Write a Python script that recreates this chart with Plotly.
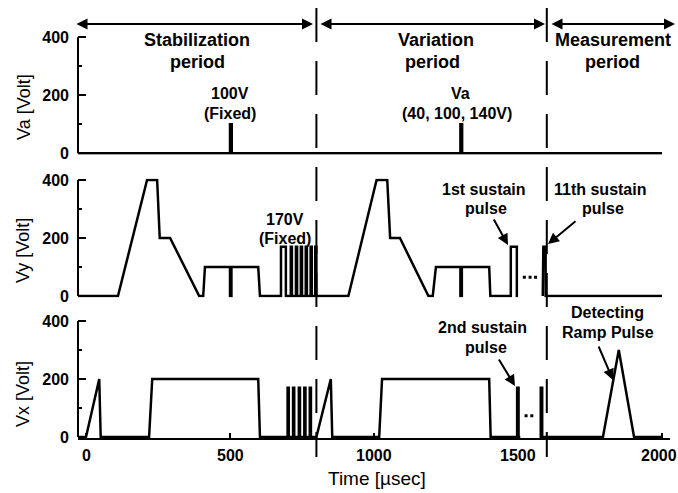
import plotly.graph_objects as go

W, H = 678, 493
ML, MR = 78, 8
FONT = "Liberation Sans, Arial, sans-serif"

# time axis (µs) and voltage axes
t_range = [-27.8, 2027.8]
x_ticks = [0, 500, 1000, 1500, 2000]
y_ticks = [0, 200, 400]
y_minor = [100, 300]
v_range = [-5, 405]
period_bounds = [800, 1600]

# Va : address electrode waveform
va_t = [-28, 500, 500, 506, 506, 1300, 1300, 1306, 1306, 2000]
va_v = [0, 0, 100, 100, 0, 0, 100, 100, 0, 0]

# Vy : scan electrode waveform (None = break before the last sustain pulse)
vy_t = [-28, 111, 212, 247, 256, 292, 393, 407, 413, 500, 500, 505, 505, 598, 604,
        677, 677, 694, 694,
        711, 711, 715, 715,
        729, 729, 733, 733,
        746, 746, 750, 750,
        763, 763, 767, 767,
        780, 780, 784, 784,
        796, 796, 800, 800,
        911, 1009, 1046, 1056, 1090, 1189, 1204, 1215, 1300, 1300, 1305, 1305, 1400, 1404,
        1475, 1475, 1496, 1496, 1500, None, 1586, 1588, 1596, 1596, 2000]
vy_v = [0, 0, 400, 400, 200, 200, 0, 0, 100, 100, 0, 0, 100, 100, 0,
        0, 170, 170, 0,
        0, 170, 170, 0,
        0, 170, 170, 0,
        0, 170, 170, 0,
        0, 170, 170, 0,
        0, 170, 170, 0,
        0, 170, 170, 0,
        0, 400, 400, 200, 200, 0, 0, 100, 100, 0, 0, 100, 100, 0,
        0, 170, 170, 0, 0, None, 0, 170, 170, 0, 0]

# Vx : sustain electrode waveform
vx_t = [-28, 0, 46, 51, 219, 230, 598, 604,
        700, 700, 704, 704,
        719, 719, 723, 723,
        739, 739, 743, 743,
        758, 758, 762, 762,
        777, 777, 781, 781,
        800, 850, 855, 1018, 1028, 1400, 1405,
        1497, 1497, 1502, 1502, 1508, None, 1575, 1579, 1579, 1584, 1584,
        1795, 1850, 1903, 2000]
vx_v = [0, 0, 200, 0, 0, 200, 200, 0,
        0, 170, 170, 0,
        0, 170, 170, 0,
        0, 170, 170, 0,
        0, 170, 170, 0,
        0, 170, 170, 0,
        0, 200, 0, 0, 200, 200, 0,
        0, 170, 170, 0, 0, None, 0, 0, 170, 170, 0,
        0, 300, 0, 0]

# ellipsis dots between the sustain pulses
vy_dots_t = [1522, 1542, 1561]
vy_dots_v = [65, 65, 65]
vx_dots_t = [1528, 1548]
vx_dots_v = [73, 73]

panel_names = ["Va [Volt]", "Vy [Volt]", "Vx [Volt]"]


def px2x(px):
    return (px - ML) / (W - ML - MR)


def py2y(py):
    return 1 - py / H


def domain(py_zero, py_top):
    k = (py_zero - py_top) / 400.0
    lo = py_zero - v_range[0] * k
    hi = py_top - (v_range[1] - 400) * k
    return [py2y(lo), py2y(hi)]


line_style = dict(color="black", width=2.5)
fig = go.Figure()
fig.add_trace(go.Scatter(x=va_t, y=va_v, mode="lines", line=line_style, xaxis="x", yaxis="y"))
fig.add_trace(go.Scatter(x=vy_t, y=vy_v, mode="lines", line=line_style, xaxis="x2", yaxis="y2",
                         connectgaps=False))
fig.add_trace(go.Scatter(x=vx_t, y=vx_v, mode="lines", line=line_style, xaxis="x3", yaxis="y3",
                         connectgaps=False))
fig.add_trace(go.Scatter(x=vy_dots_t, y=vy_dots_v, mode="markers", xaxis="x2", yaxis="y2",
                         marker=dict(symbol="square", size=3, color="black")))
fig.add_trace(go.Scatter(x=vx_dots_t, y=vx_dots_v, mode="markers", xaxis="x3", yaxis="y3",
                         marker=dict(symbol="square", size=3, color="black")))

tick_font = dict(family=FONT, size=16, color="black", weight="bold")


def y_axis(dom, anchor):
    return dict(domain=dom, anchor=anchor, range=v_range, tickvals=y_ticks,
                ticks="inside", ticklen=8, tickwidth=2, tickcolor="black",
                minor=dict(tickvals=y_minor, ticks="inside", ticklen=4, tickwidth=2,
                           tickcolor="black"),
                showgrid=False, zeroline=False, showline=False,
                tickfont=tick_font, ticklabelstandoff=8, fixedrange=True)


hidden_x = dict(range=t_range, visible=False, showgrid=False, zeroline=False)

layout = dict(
    width=W, height=H,
    margin=dict(l=ML, r=MR, t=0, b=0, autoexpand=False),
    paper_bgcolor="white", plot_bgcolor="white",
    showlegend=False,
    xaxis=dict(hidden_x, anchor="y"),
    xaxis2=dict(hidden_x, anchor="y2"),
    # time ticks; their labels are placed as annotations below so the last one stays inside
    xaxis3=dict(range=t_range, anchor="y3", tickvals=x_ticks, ticks="inside",
                ticklen=5, tickwidth=2, tickcolor="black", showline=True,
                linewidth=2, linecolor="black", showgrid=False, zeroline=False,
                showticklabels=False),
    yaxis=y_axis(domain(153.3, 37.3), "x"),
    yaxis2=y_axis(domain(296, 180), "x2"),
    yaxis3=y_axis(domain(437, 321), "x3"),
)
fig.update_layout(**layout)

shapes = []
# vertical axis lines from 0 to 400 V
for yr in ["y", "y2", "y3"]:
    shapes.append(dict(type="line", xref="paper", yref=yr, x0=0, x1=0, y0=0, y1=400,
                       line=dict(color="black", width=2)))
# period boundaries
for tb in period_bounds:
    shapes.append(dict(type="line", xref="x", yref="paper", x0=tb, x1=tb,
                       y0=py2y(8), y1=py2y(457),
                       line=dict(color="black", width=2, dash="34px,19px")))
fig.update_layout(shapes=shapes)

ann = []

# time tick labels
for i, tv in enumerate(x_ticks):
    last = i == len(x_ticks) - 1
    ann.append(dict(text=str(tv), x=tv, xref="x3", y=py2y(455), yref="paper",
                    showarrow=False, xanchor="center", yanchor="middle",
                    xshift=-3 if last else 0,
                    font=tick_font))


def label(text, cx, cy, size=16, bold=True, angle=0):
    ann.append(dict(text=text, x=px2x(cx), y=py2y(cy), xref="paper", yref="paper",
                    showarrow=False, xanchor="center", yanchor="middle", textangle=angle,
                    font=dict(family=FONT, size=size, color="black",
                              weight="bold" if bold else "normal")))


def label_lines(lines, size=16):
    for text, cx, cy in lines:
        label(text, cx, cy, size=size)


def arrow(x0, y0, x1, y1, both=False):
    ann.append(dict(text="", x=px2x(x1), y=py2y(y1), xref="paper", yref="paper",
                    ax=x0 - x1, ay=y0 - y1, axref="pixel", ayref="pixel",
                    showarrow=True, arrowhead=2, arrowsize=1.1, arrowwidth=2,
                    startarrowhead=2, startarrowsize=1.1,
                    arrowside="end+start" if both else "end",
                    arrowcolor="black", standoff=0, startstandoff=0))


# period headers
arrow(75, 24, 313, 24, both=True)
arrow(319, 24, 545, 24, both=True)
arrow(550, 24, 675, 24, both=True)
label_lines([("Stabilization", 197, 40), ("period", 197, 62)], size=18)
label_lines([("Variation", 436, 40), ("period", 432, 62)], size=18)
label_lines([("Measurement", 613, 40), ("period", 612, 62)], size=18)

# pulse notes
label_lines([("100V", 230, 94), ("(Fixed)", 230, 113)])
label_lines([("Va", 460, 93), ("(40, 100, 140V)", 457, 113)])
label_lines([("170V", 285, 220), ("(Fixed)", 285, 238)])
label_lines([("1st sustain", 484, 189), ("pulse", 486, 208)])
arrow(493, 218, 508, 245)
label_lines([("11th sustain", 600, 189), ("pulse", 603, 208)])
arrow(577, 220, 548, 244)
label_lines([("2nd sustain", 482, 327), ("pulse", 486, 347)])
arrow(498, 358, 515, 386)
label_lines([("Detecting", 607, 312), ("Ramp Pulse", 608, 332)])
arrow(598, 345, 613, 380)

# axis titles
label(panel_names[0], 24, 107, size=18, bold=False, angle=-90)
label(panel_names[1], 23, 251, size=18, bold=False, angle=-90)
label(panel_names[2], 23, 394, size=18, bold=False, angle=-90)
label("Time [\u00b5sec]", 377, 478, size=19, bold=False)

fig.update_layout(annotations=ann)
fig.write_html("out.html")
